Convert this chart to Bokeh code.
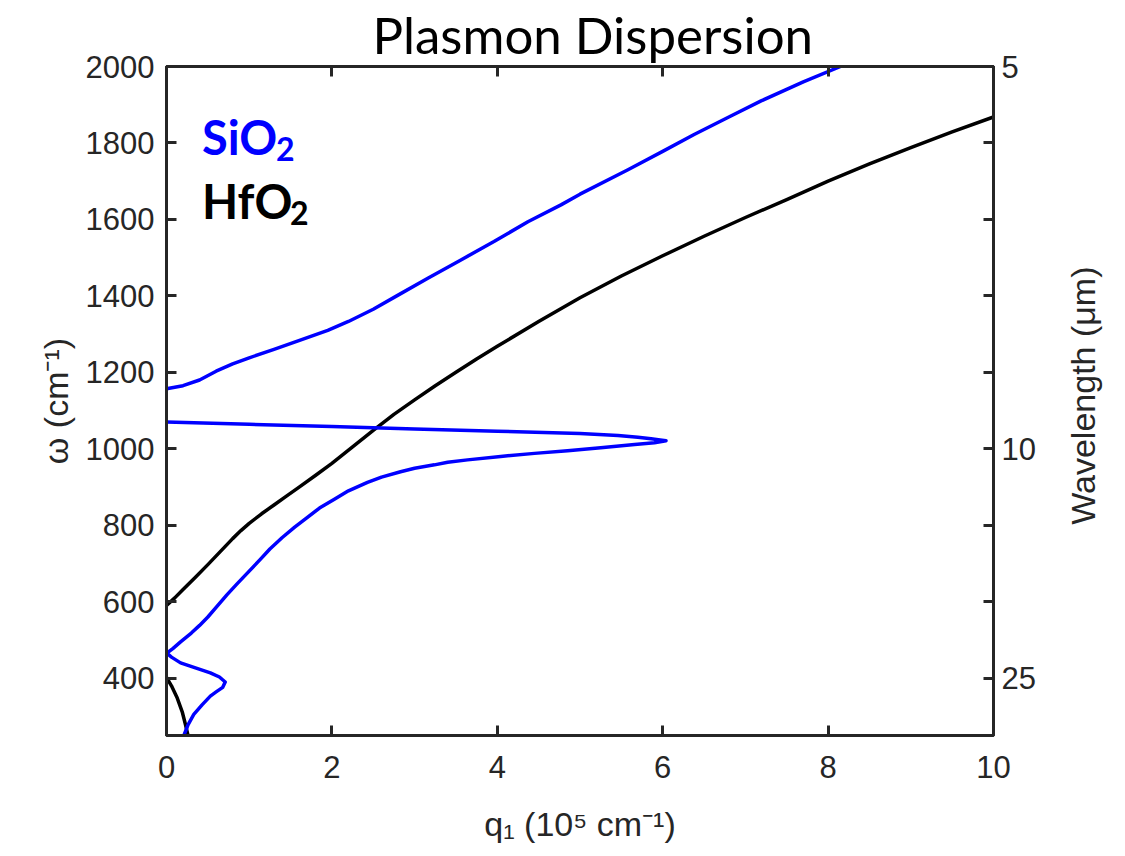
import math
from bokeh.plotting import figure
from bokeh.layouts import row
from bokeh.models import LinearAxis, FixedTicker, Label, Range1d
from bokeh.core.properties import value
from bokeh.embed import file_html
from bokeh.resources import INLINE

# ---- data ----
hfo2_upper_q = [0, 0.1, 0.2, 0.35, 0.5, 0.65, 0.8, 0.9, 1.0, 1.15, 1.3, 1.45, 1.6, 1.8,
                2.0, 2.25, 2.5, 2.75, 3.0, 3.25, 3.5, 3.75, 4.0, 4.5, 5.0, 5.5, 6.0,
                6.5, 7.0, 7.5, 8.0, 8.5, 9.0, 9.5, 10.0]
hfo2_upper_w = [590, 610, 632, 664, 697, 731, 765, 786, 805, 830, 853, 876, 899, 930,
                962, 1005, 1048, 1090, 1128, 1165, 1200, 1235, 1268, 1333, 1395, 1452, 1505,
                1556, 1605, 1652, 1700, 1745, 1788, 1829, 1868]

hfo2_lower_q = [0, 0.06, 0.13, 0.19, 0.23, 0.26]
hfo2_lower_w = [402, 380, 348, 312, 278, 250]

sio2_upper_q = [0, 0.2, 0.4, 0.6, 0.8, 1.0, 1.3, 1.6, 1.95, 2.2, 2.5, 2.8, 3.16, 3.56,
                3.96, 4.37, 4.77, 5.0, 5.58, 6.0, 6.38, 6.8, 7.19, 7.7, 8.15]
sio2_upper_w = [1157, 1165, 1180, 1203, 1222, 1238, 1260, 1283, 1310, 1333, 1365, 1402,
                1446, 1494, 1542, 1594, 1638, 1666, 1730, 1778, 1822, 1868, 1910, 1960, 2000]

sio2_loop_q = [0, 1.0, 2.0, 3.0, 4.0, 5.0, 5.46, 5.7, 5.86, 5.97, 6.04, 5.9, 5.66, 5.25,
               4.85, 4.45, 4.04, 3.64, 3.4, 3.24, 3.0, 2.83, 2.6, 2.43, 2.2, 2.03, 1.85,
               1.70, 1.55, 1.40, 1.25, 1.14, 1.0, 0.85, 0.73, 0.6, 0.5, 0.4, 0.3, 0.17,
               0.08, 0.02, 0, 0.06, 0.17, 0.35, 0.53, 0.64, 0.71, 0.68, 0.6, 0.53, 0.43,
               0.33, 0.26, 0.21]
sio2_loop_w = [1070, 1064, 1058, 1052, 1046, 1040, 1035, 1030, 1026, 1023, 1021, 1016, 1011,
               1003, 995, 988, 980, 971, 965, 958, 949, 940, 926, 912, 890, 868, 845,
               820, 795, 768, 738, 712, 680, 646, 618, 585, 560, 538, 518, 495,
               478, 468, 466, 455, 440, 427, 414, 403, 390, 376, 364, 353, 330,
               305, 278, 250]

left_ticks = [400, 600, 800, 1000, 1200, 1400, 1600, 1800, 2000]
x_ticks = [0, 2, 4, 6, 8, 10]
wavelength_labels = [5, 10, 25]   # micrometres, shown on right axis

AX = "#262626"

p = figure(width=1045, height=856, output_backend="svg", toolbar_location=None,
           x_range=Range1d(0, 10), y_range=Range1d(250, 2000),
           min_border_left=166, min_border_right=52, min_border_top=66,
           min_border_bottom=121, background_fill_color="white",
           border_fill_color="white", outline_line_color=AX, outline_line_width=3)
p.grid.visible = False

# title
p.title.text = "Plasmon Dispersion"
p.title.text_font = "Lato"
p.title.text_font_style = "normal"
p.title.text_font_size = "51px"
p.title.text_line_height = 1.0
p.title.text_color = "black"
p.title.align = "left"
p.title.vertical_align = "top"
p.title.offset = 206
p.title.standoff = 0

def style_axis(ax, labels=True):
    ax.axis_line_color = AX
    ax.axis_line_width = 3
    ax.major_tick_line_color = AX
    ax.major_tick_line_width = 3
    ax.major_tick_in = 10
    ax.major_tick_out = 0
    ax.minor_tick_line_color = None
    ax.major_label_text_font = "Liberation Sans"
    ax.major_label_text_font_size = "31px" if labels else "0px"
    ax.major_label_text_color = AX
    ax.axis_label_text_font = "Liberation Sans"
    ax.axis_label_text_font_size = "34px"
    ax.axis_label_text_font_style = "normal"
    ax.axis_label_text_color = AX

# bottom axis
xa = p.xaxis[0]
xa.ticker = FixedTicker(ticks=x_ticks)
style_axis(xa)
xa.axis_label = "q\u2081 (10\u2075 cm\u207b\u00b9)"
xa.major_label_standoff = 20
xa.axis_label_standoff = 24

# left axis
ya = p.yaxis[0]
ya.ticker = FixedTicker(ticks=left_ticks)
style_axis(ya)
ya.axis_label = "\u03c9 (cm\u207b\u00b9)"
ya.major_label_standoff = 12
ya.axis_label_standoff = 8

# top axis (ticks only)
top = LinearAxis(ticker=FixedTicker(ticks=x_ticks))
style_axis(top, labels=False)
top.major_label_overrides = {t: "" for t in x_ticks}
top.major_label_standoff = 0
p.add_layout(top, "above")

# right axis: wavelength
right = LinearAxis(ticker=FixedTicker(ticks=left_ticks))
style_axis(right)
wl_pos = {10000 / w: str(w) for w in wavelength_labels}
right.major_label_overrides = {t: wl_pos.get(float(t), "") for t in left_ticks}
right.major_label_standoff = 8
p.add_layout(right, "right")

# curves
for q, w, c in [(hfo2_upper_q, hfo2_upper_w, "black"),
                (hfo2_lower_q, hfo2_lower_w, "black"),
                (sio2_upper_q, sio2_upper_w, "#0000FF"),
                (sio2_loop_q, sio2_loop_w, "#0000FF")]:
    p.line(q, w, line_color=c, line_width=3.5, line_join="round", line_cap="round")

# legend texts
def chem(x, y, base, color, sub_dx):
    p.add_layout(Label(x=x, y=y, text=base, text_font="Lato", text_font_style="bold",
                       text_font_size="47px", text_color=color, text_baseline="alphabetic"))
    p.add_layout(Label(x=x, y=y, x_offset=sub_dx, y_offset=-12, text="2", text_font="Lato",
                       text_font_style="bold", text_font_size="32px", text_color=color,
                       text_baseline="alphabetic"))

chem(0.43, 1816, "SiO", "#0000FF", 74)
chem(0.43, 1647, "HfO", "black", 88)

# narrow companion panel carrying the right-hand axis title (reads bottom to top)
p2 = figure(width=80, height=856, output_backend="svg", toolbar_location=None,
            x_range=Range1d(0, 1), y_range=Range1d(0, 1), x_axis_type=None,
            y_axis_type=None, min_border=0, outline_line_color=None,
            background_fill_color="white", border_fill_color="white")
p2.grid.visible = False
p2.text(x=[0.47], y=[0.508], text=["Wavelength (\u03bcm)"], angle=math.pi / 2,
        text_align="center", text_baseline="middle",
        text_font=value("Liberation Sans"), text_font_size="34px", text_color=AX)

layout = row(p, p2, spacing=0)
open("out.html", "w").write(file_html(layout, INLINE))
